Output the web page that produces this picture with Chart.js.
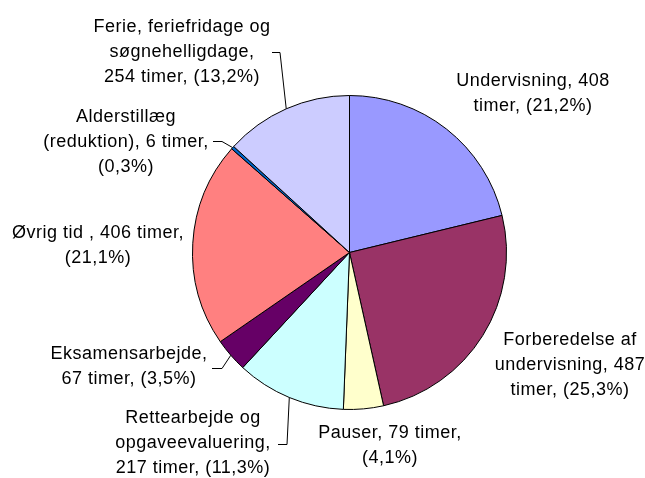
<!DOCTYPE html>
<html>
<head>
<meta charset="utf-8">
<script src="https://cdn.jsdelivr.net/npm/chart.js@4/dist/chart.umd.min.js"></script>
<style>
  html, body { margin: 0; padding: 0; background: #ffffff; }
  #wrap { width: 645px; height: 478px; position: relative; }
</style>
</head>
<body>
<div id="wrap"><canvas id="c" width="645" height="478"></canvas></div>
<script>
const categories = [
  "Undervisning",
  "Forberedelse af undervisning",
  "Pauser",
  "Rettearbejde og opgaveevaluering",
  "Eksamensarbejde",
  "Øvrig tid ",
  "Alderstillæg (reduktion)",
  "Ferie, feriefridage og søgnehelligdage"
];
const hours = [408, 487, 79, 217, 67, 406, 6, 254];
const percents = ["21,2%", "25,3%", "4,1%", "11,3%", "3,5%", "21,1%", "0,3%", "13,2%"];

const colors = ["#9999FF", "#993366", "#FFFFCC", "#CCFFFF", "#660066", "#FF8080", "#0066CC", "#CCCCFF"];

// label layout: word break points, center x, first-line y, leader stub (start x, end x, y) or null
const labelLayout = [
  { breaks: [2],    x: 533, y: 81,  stub: null },
  { breaks: [2, 4], x: 570, y: 340, stub: null },
  { breaks: [3],    x: 390, y: 433, stub: null },
  { breaks: [2, 3], x: 193, y: 418, stub: [278, 287, 444] },
  { breaks: [1],    x: 129, y: 354, stub: [212, 222, 368] },
  { breaks: [5],    x: 98,  y: 233, stub: null },
  { breaks: [1, 4], x: 126, y: 117, stub: [213, 222, 141] },
  { breaks: [3, 4], x: 182, y: 27,  stub: [272, 280, 52] }
];
const lineHeight = 25;

function labelLines(i) {
  const full = categories[i] + ", " + hours[i] + " timer, (" + percents[i] + ")";
  const words = full.split(" ");
  const out = [];
  let start = 0;
  for (const b of labelLayout[i].breaks) {
    out.push(words.slice(start, b).join(" "));
    start = b;
  }
  out.push(words.slice(start).join(" "));
  return out;
}

const labelPlugin = {
  id: "outLabels",
  afterDraw(chart) {
    const ctx = chart.ctx;
    const meta = chart.getDatasetMeta(0);
    ctx.save();
    ctx.font = '18px "Liberation Sans", Arial, sans-serif';
    if ("letterSpacing" in ctx) ctx.letterSpacing = "0.5px";
    ctx.fillStyle = "#000000";
    ctx.textAlign = "center";
    ctx.textBaseline = "middle";
    meta.data.forEach((arc, i) => {
      const L = labelLayout[i];
      labelLines(i).forEach((t, k) => ctx.fillText(t, L.x, L.y + k * lineHeight));
      if (L.stub) {
        const p = arc.getProps(["x", "y", "startAngle", "endAngle", "outerRadius"], true);
        const mid = (p.startAngle + p.endAngle) / 2;
        const ex = p.x + Math.cos(mid) * p.outerRadius;
        const ey = p.y + Math.sin(mid) * p.outerRadius;
        ctx.beginPath();
        ctx.strokeStyle = "#000000";
        ctx.lineWidth = 1;
        ctx.moveTo(L.stub[0], L.stub[2] + 0.5);
        ctx.lineTo(L.stub[1], L.stub[2] + 0.5);
        ctx.lineTo(ex, ey);
        ctx.stroke();
      }
    });
    ctx.restore();
  }
};

new Chart(document.getElementById("c"), {
  type: "pie",
  data: {
    labels: categories,
    datasets: [{
      data: hours,
      backgroundColor: colors,
      borderColor: "#000000",
      borderWidth: 1
    }]
  },
  options: {
    responsive: false,
    animation: false,
    layout: { padding: { left: 192, right: 138, top: 95, bottom: 68 } },
    plugins: {
      legend: { display: false },
      tooltip: { enabled: false }
    },
    elements: { arc: { borderAlign: "center" } }
  },
  plugins: [labelPlugin]
});
</script>
</body>
</html>
